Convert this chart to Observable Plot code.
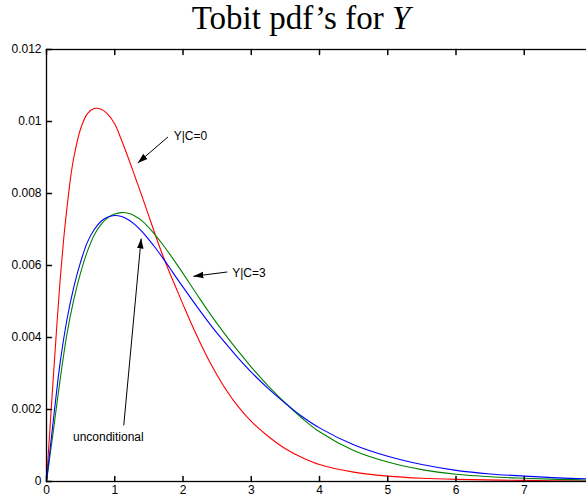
<!DOCTYPE html>
<html><head><meta charset="utf-8">
<script src="https://cdn.jsdelivr.net/npm/d3@7"></script>
<script src="https://cdn.jsdelivr.net/npm/@observablehq/plot@0.6"></script>
<style>
html,body{margin:0;padding:0;background:#fff;}
#wrap{position:relative;width:586px;height:497px;overflow:hidden;}
#title{position:absolute;left:0;top:2px;width:602px;text-align:center;font-family:"Liberation Serif","DejaVu Serif",serif;font-size:33px;line-height:33px;color:#000;white-space:nowrap;}
</style></head><body>
<div id="wrap"><div id="title">Tobit pdf’s for <i>Y</i></div></div>
<script>
// Series names and colours
const seriesNames = ["Y|C=0", "Y|C=3", "unconditional"];
const seriesColors = ["#ff0000", "#008000", "#0000ff"];

// Y|C=0 (red)
const redX = [0, 0.05, 0.1, 0.15, 0.2, 0.25, 0.3, 0.35, 0.4, 0.5, 0.6, 0.7, 0.8, 0.9, 1.0, 1.1, 1.2, 1.3, 1.4, 1.5, 1.6, 1.7, 1.8, 1.9, 2.0, 2.2, 2.4, 2.6, 2.8, 3.0, 3.25, 3.5, 3.75, 4.0, 4.5, 5.0, 5.5, 6.0, 7.0, 8.0];
const redY = [0, 0.00145, 0.0029, 0.0043, 0.0056, 0.0067, 0.0076, 0.0084, 0.0090, 0.0098, 0.01022, 0.01036, 0.01034, 0.0102, 0.00993, 0.00948, 0.00898, 0.00845, 0.00792, 0.00737, 0.00682, 0.0063, 0.00582, 0.00537, 0.00492, 0.00406, 0.00329, 0.00264, 0.0021, 0.00167, 0.00125, 0.00091, 0.00066, 0.00047, 0.00026, 0.00015, 0.00009, 0.00006, 0.00003, 0.00001];

// Y|C=3 (green)
const greenX = [0, 0.05, 0.1, 0.15, 0.2, 0.3, 0.4, 0.5, 0.6, 0.7, 0.8, 0.9, 1.0, 1.1, 1.2, 1.3, 1.4, 1.5, 1.6, 1.7, 1.8, 1.9, 2.0, 2.2, 2.4, 2.6, 2.8, 3.0, 3.25, 3.5, 3.75, 4.0, 4.5, 5.0, 5.5, 6.0, 6.5, 7.0, 7.5, 8.0];
const greenY = [0, 0.0007, 0.0014, 0.00213, 0.00283, 0.0041, 0.00505, 0.0058, 0.0064, 0.00685, 0.00714, 0.00733, 0.00743, 0.00747, 0.00745, 0.00737, 0.00724, 0.00705, 0.00683, 0.00659, 0.00633, 0.00606, 0.00578, 0.00521, 0.00465, 0.00413, 0.00364, 0.00318, 0.00265, 0.00218, 0.00175, 0.00138, 0.00086, 0.00054, 0.00033, 0.0002, 0.00013, 0.00009, 0.00006, 0.00004];

// unconditional (blue)
const blueX = [0, 0.05, 0.1, 0.15, 0.2, 0.3, 0.4, 0.5, 0.6, 0.7, 0.8, 0.9, 1.0, 1.1, 1.2, 1.3, 1.4, 1.5, 1.6, 1.7, 1.8, 1.9, 2.0, 2.2, 2.4, 2.6, 2.8, 3.0, 3.25, 3.5, 3.75, 4.0, 4.5, 5.0, 5.5, 6.0, 6.5, 7.0, 7.5, 8.0];
const blueY = [0, 0.00085, 0.0017, 0.00253, 0.0033, 0.0045, 0.0054, 0.0061, 0.00665, 0.0070, 0.00723, 0.00735, 0.00739, 0.00736, 0.00727, 0.00713, 0.00694, 0.00672, 0.00648, 0.00622, 0.00595, 0.00567, 0.0054, 0.00487, 0.00436, 0.00389, 0.00345, 0.00304, 0.00258, 0.00217, 0.0018, 0.00149, 0.00102, 0.0007, 0.00047, 0.00031, 0.00021, 0.00015, 0.0001, 0.00007];

// Axis ticks
const xTicks = [0, 1, 2, 3, 4, 5, 6, 7, 8];
const xTickLabels = ["0", "1", "2", "3", "4", "5", "6", "7", ""];
const yTicks = [0, 0.002, 0.004, 0.006, 0.008, 0.01, 0.012];
const yTickLabels = ["0", "0.002", "0.004", "0.006", "0.008", "0.01", "0.012"];

// Annotations (data units)
const labelText = ["Y|C=0", "Y|C=3", "unconditional"];
const labelX = [1.864, 2.72, 0.906];
const labelY = [0.00959, 0.0058, 0.00122];
const labelAnchor = ["start", "start", "middle"];
const arrowX1 = [1.78, 2.65, 1.132];
const arrowY1 = [0.00957, 0.00582, 0.00156];
const arrowX2 = [1.337, 2.152, 1.387];
const arrowY2 = [0.00885, 0.0057, 0.00675];

const lineData = [];
[[redX, redY], [greenX, greenY], [blueX, blueY]].forEach(([xs, ys], s) => {
  xs.forEach((x, i) => lineData.push({series: seriesNames[s], x, y: ys[i]}));
});
const labels = labelText.map((t, i) => ({text: t, x: labelX[i], y: labelY[i], anchor: labelAnchor[i]}));
const arrows = arrowX1.map((x1, i) => ({x1, y1: arrowY1[i], x2: arrowX2[i], y2: arrowY2[i]}));

const tickShape = {draw(context, l) { context.moveTo(0, 0); context.lineTo(0, -l); }};

function filledArrow(color) {
  const ns = "http://www.w3.org/2000/svg";
  const m = document.createElementNS(ns, "marker");
  m.setAttribute("viewBox", "-10 -4 10 8");
  m.setAttribute("markerWidth", "10");
  m.setAttribute("markerHeight", "8");
  m.setAttribute("markerUnits", "userSpaceOnUse");
  m.setAttribute("refX", "0");
  m.setAttribute("refY", "0");
  m.setAttribute("orient", "auto");
  const p = document.createElementNS(ns, "path");
  p.setAttribute("d", "M-10,-3.3L0,0L-10,3.3Z");
  p.setAttribute("fill", color);
  p.setAttribute("stroke", "none");
  m.appendChild(p);
  return m;
}

function build(useMarker) {
  const arrowMark = useMarker
    ? Plot.link(arrows, {x1: "x1", y1: "y1", x2: "x2", y2: "y2", stroke: "black", strokeWidth: 1, markerEnd: filledArrow})
    : Plot.arrow(arrows, {x1: "x1", y1: "y1", x2: "x2", y2: "y2", stroke: "black", strokeWidth: 1, headLength: 9, headAngle: 40});
  return Plot.plot({
    width: 586,
    height: 497,
    marginLeft: 46,
    marginTop: 49,
    marginBottom: 16,
    marginRight: -6,
    style: {fontFamily: "'Liberation Sans', Arial, sans-serif", fontSize: "12px", background: "white", color: "black"},
    x: {domain: [0, 8]},
    y: {domain: [0, 0.012]},
    color: {domain: seriesNames, range: seriesColors},
    marks: [
      Plot.line(lineData, {x: "x", y: "y", z: "series", stroke: "series", strokeWidth: 1.1, curve: "catmull-rom"}),
      Plot.frame({stroke: "black", strokeWidth: 1.3}),
      Plot.axisX({ticks: xTicks, tickSize: 0, tickPadding: 4, tickFormat: (d, i) => xTickLabels[i], fontSize: 12}),
      Plot.axisY({ticks: yTicks, tickSize: 0, tickPadding: 5, tickFormat: (d, i) => yTickLabels[i], fontSize: 12}),
      Plot.vector(xTicks, {x: d => d, frameAnchor: "bottom", length: 5, rotate: 0, anchor: "start", shape: tickShape, stroke: "black"}),
      Plot.vector(xTicks, {x: d => d, frameAnchor: "top", length: 5, rotate: 180, anchor: "start", shape: tickShape, stroke: "black"}),
      Plot.vector(yTicks, {y: d => d, frameAnchor: "left", length: 5, rotate: 90, anchor: "start", shape: tickShape, stroke: "black"}),
      arrowMark,
      Plot.text(labels.filter(d => d.anchor === "start"), {x: "x", y: "y", text: "text", textAnchor: "start", fontSize: 12, fill: "black"}),
      Plot.text(labels.filter(d => d.anchor === "middle"), {x: "x", y: "y", text: "text", textAnchor: "middle", fontSize: 12, fill: "black"})
    ]
  });
}

let plot;
try { plot = build(true); } catch (e) { plot = build(false); }
plot.style.overflow = "hidden";
document.getElementById("wrap").prepend(plot);
</script>
</body></html>
